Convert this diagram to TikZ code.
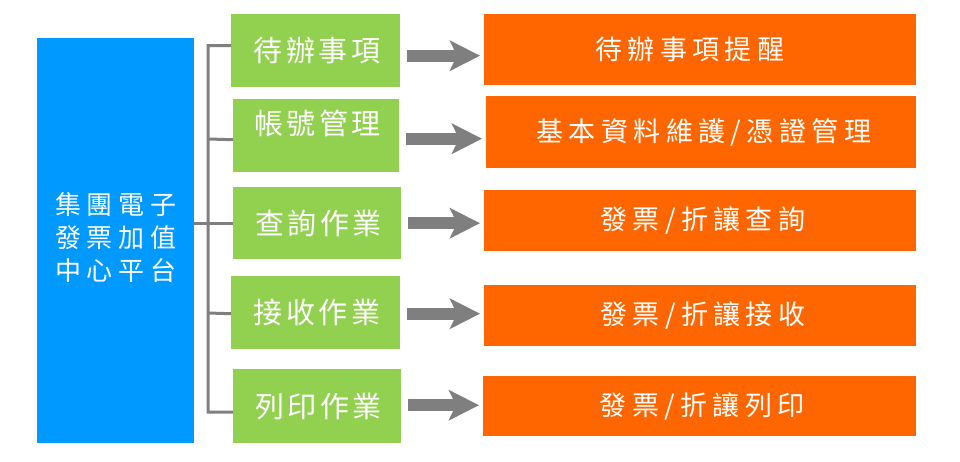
\documentclass[tikz,border=0pt]{standalone}
\usepackage{fontspec}
\newfontfamily\cjkG[LetterSpace=12]{Noto Sans CJK TC}
\newfontfamily\cjkO[LetterSpace=20]{Noto Sans CJK TC}
\newfontfamily\cjkB[LetterSpace=22]{Noto Sans CJK TC}
\usetikzlibrary{arrows.meta}
\definecolor{blueC}{HTML}{0099FF}
\definecolor{greenC}{HTML}{92D050}
\definecolor{orangeC}{HTML}{FF6600}
\definecolor{grayC}{HTML}{7F7F7F}
\begin{document}
\begin{tikzpicture}[x=1pt,y=-1pt,
  box/.style={anchor=north west, inner sep=0pt, text=white},
  bluebox/.style={box, fill=blueC, font=\cjkB\fontsize{26}{33}\selectfont, align=center},
  greenbox/.style={box, fill=greenC, font=\cjkG\fontsize{29}{32}\selectfont},
  orangebox/.style={box, fill=orangeC, minimum width=432pt, font=\cjkO\fontsize{27}{30}\selectfont},
  bracket/.style={draw=grayC, line width=3pt},
  bigarrow/.style={draw=grayC, line width=12pt, shorten <=7pt, shorten >=4pt,
    -{Stealth[length=30pt, width=30pt, inset=7pt]}}]
\useasboundingbox (0,0) rectangle (960,461);
% blue box
\node[bluebox, minimum width=157pt, minimum height=405pt] (hub) at (37,38) {\raisebox{7pt}{\begin{tabular}{@{}c@{}}集團電子\\發票加值\\中心平台\end{tabular}}};
% green boxes
\node[greenbox, minimum width=169pt, minimum height=73pt] (g1) at (231,14) {\hspace{3pt}待辦事項};
\node[greenbox, minimum width=166pt, minimum height=73pt] (g2) at (233,99) {\hspace{3pt}\raisebox{12pt}[\height][\depth]{帳號管理}};
\node[greenbox, minimum width=168pt, minimum height=72pt] (g3) at (233,187) {\hspace{3pt}查詢作業};
\node[greenbox, minimum width=169pt, minimum height=73pt] (g4) at (231,276) {\hspace{3pt}接收作業};
\node[greenbox, minimum width=168pt, minimum height=74pt] (g5) at (233,369) {\hspace{3pt}列印作業};
% orange boxes
\node[orangebox, minimum height=71pt] (o1) at (484,14) {\hspace{-21pt}待辦事項提醒};
\node[orangebox, minimum width=430pt, minimum height=72pt] (o2) at (486,96) {\hspace{5pt}基本資料維護/憑證管理};
\node[orangebox, minimum height=61pt] (o3) at (484,190) {\hspace{5pt}發票/折讓查詢};
\node[orangebox, minimum height=61pt] (o4) at (484,285) {\hspace{5pt}發票/折讓接收};
\node[orangebox, minimum width=433pt, minimum height=60pt] (o5) at (483,376) {\hspace{5pt}發票/折讓列印};
% bracket
\coordinate (bx) at (208,0);
\draw[bracket] (hub.east |- g3.west) -- (g3.west);
\draw[bracket] ([yshift=5pt]g1.west) -| (bx |- 0,412) -- ([yshift=-6pt]g5.west);
\draw[bracket] (bx |- 0,139) -- ([yshift=-4pt]g2.west);
\draw[bracket] (bx |- 0,313) -- ([yshift=-1pt]g4.west);
% arrows
\draw[bigarrow] ([yshift=-5pt]g1.east) -- ([yshift=-5pt]g1.east -| o1.west);
\draw[bigarrow] ([yshift=-3pt]g2.east) -- ([yshift=-3pt]g2.east -| o2.west);
\draw[bigarrow] (g3.east) -- (g3.east -| o3.west);
\draw[bigarrow] ([yshift=-1pt]g4.east) -- ([yshift=-1pt]g4.east -| o4.west);
\draw[bigarrow] ([yshift=1pt]g5.east) -- ([yshift=1pt]g5.east -| o5.west);
\end{tikzpicture}
\end{document}
